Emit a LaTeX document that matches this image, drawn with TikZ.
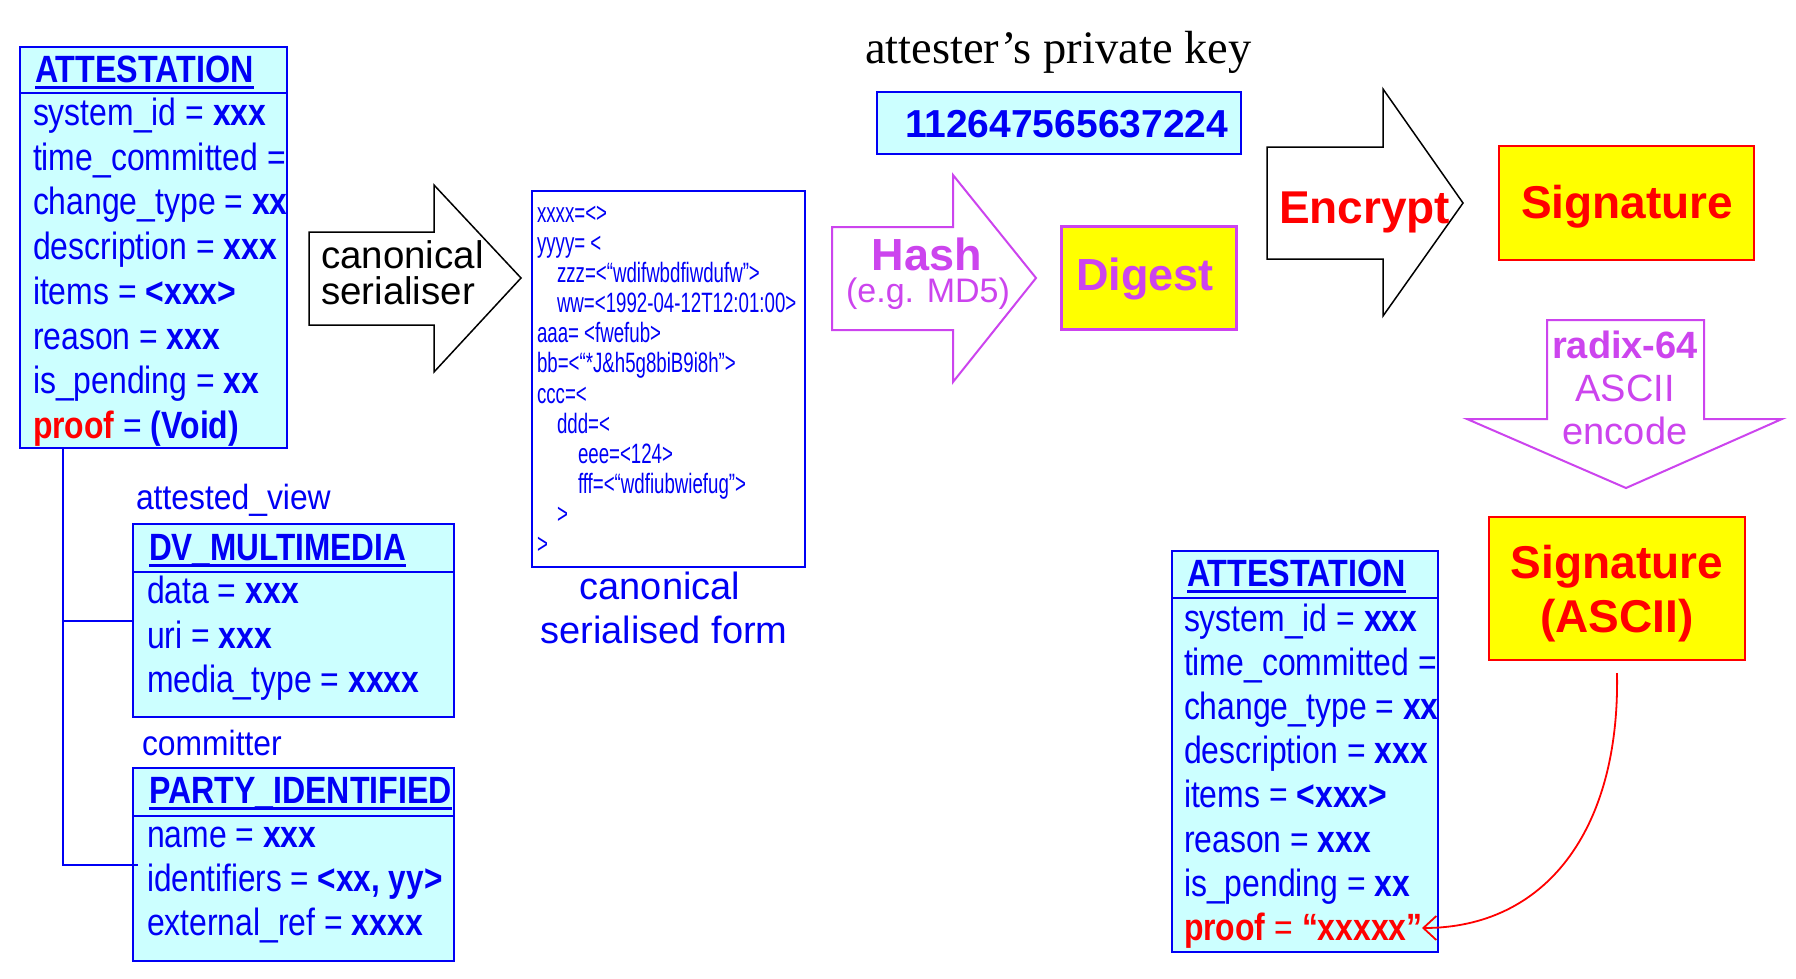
\documentclass[tikz,border=0pt]{standalone}
\usepackage{fontspec}
\setmainfont{Liberation Sans}
\newfontfamily\serifkey{Liberation Serif}
\usepackage{graphicx}
\usetikzlibrary{arrows.meta,calc}
\definecolor{bl}{RGB}{0,0,245}
\definecolor{cy}{RGB}{204,255,255}
\definecolor{pu}{RGB}{204,68,238}
\definecolor{yl}{RGB}{255,255,0}
\definecolor{rd}{RGB}{255,0,0}
\newcommand{\fsz}[1]{\fontsize{#1}{#1}\selectfont}
\newcommand{\hsc}[2]{\scalebox{#1}[1]{#2}}
\begin{document}
\begin{tikzpicture}[x=1pt,y=-1pt,
  t/.style={anchor=base west,inner sep=0pt,outer sep=0pt},
  tc/.style={anchor=base,inner sep=0pt,outer sep=0pt},
  bx/.style={anchor=north west,inner sep=0pt,outer sep=0pt,line width=2.5pt},
  umlbox/.style={bx,draw=bl,fill=cy},
  sep/.style={draw=bl,line width=2.5pt},
  tree/.style={draw=bl,line width=2pt},
  ulin/.style={draw=bl,line width=3pt},
  blockarrow/.style={line width=1.5pt,line join=miter,fill=white},
  bodyL/.style={t,text=bl,font=\fsz{38}},
  ser/.style={t,text=bl,font=\fsz{28}},
  ttl/.style={t,text=bl,font=\fsz{38}\bfseries},
]
\useasboundingbox (0,0) rectangle (1796,978);

% ---------- left ATTESTATION ----------
\node[umlbox,minimum width=267pt,minimum height=401pt] (att1) at (20,47) {};
\draw[sep] (att1.west |- 0,93) -- (att1.east |- 0,93);
\begin{scope}
\clip (20,47) rectangle (286,448);
\node[ttl] (att1t) at (35,82) {\hsc{0.85}{ATTESTATION}};
\node[bodyL] (a1) at (33,125) {\hsc{0.84}{system\_id = \textbf{xxx}}};
\node[bodyL] (a2) at (33,170) {\hsc{0.84}{time\_committed =}};
\node[bodyL] (a3) at (33,214) {\hsc{0.84}{change\_type = \textbf{xx}}};
\node[bodyL] (a4) at (33,259) {\hsc{0.84}{description = \textbf{xxx}}};
\node[bodyL] (a5) at (33,304) {\hsc{0.84}{items = \textbf{<xxx>}}};
\node[bodyL] (a6) at (33,349) {\hsc{0.84}{reason = \textbf{xxx}}};
\node[bodyL] (a7) at (33,393) {\hsc{0.84}{is\_pending = \textbf{xx}}};
\node[bodyL] (a8) at (33,438) {\hsc{0.84}{\textcolor{rd}{\textbf{proof}} = \textbf{(Void)}}};
\end{scope}
\draw[ulin] ([yshift=-5pt]att1t.base west) -- ([yshift=-5pt]att1t.base east);

% ---------- DV_MULTIMEDIA ----------
\node[t,text=bl,font=\fsz{35}] (lblview) at (136,509) {\hsc{0.91}{attested\_view}};
\node[umlbox,minimum width=321pt,minimum height=193pt] (dv) at (133,524) {};
\draw[sep] (dv.west |- 0,572) -- (dv.east |- 0,572);
\node[ttl] (dvt) at (149,560) {\hsc{0.83}{DV\_MULTIMEDIA}};
\draw[ulin] ([yshift=-5pt]dvt.base west) -- ([yshift=-5pt]dvt.base east);
\node[bodyL] (d1) at (147,603) {\hsc{0.84}{data = \textbf{xxx}}};
\node[bodyL] (d2) at (147,648) {\hsc{0.84}{uri = \textbf{xxx}}};
\node[bodyL] (d3) at (147,692) {\hsc{0.84}{media\_type = \textbf{xxxx}}};

% ---------- PARTY_IDENTIFIED ----------
\node[t,text=bl,font=\fsz{35}] (lblcomm) at (142,755) {\hsc{0.91}{committer}};
\node[umlbox,minimum width=321pt,minimum height=193pt] (party) at (133,768) {};
\draw[sep] (party.west |- 0,816) -- (party.east |- 0,816);
\node[ttl] (pt) at (149,803) {\hsc{0.845}{PARTY\_IDENTIFIED}};
\draw[ulin] ([yshift=-5pt]pt.base west) -- ([yshift=-5pt]pt.base east);
\node[bodyL] (p1) at (147,847) {\hsc{0.84}{name = \textbf{xxx}}};
\node[bodyL] (p2) at (147,891) {\hsc{0.83}{identifiers = \textbf{<xx, yy>}}};
\node[bodyL] (p3) at (147,935) {\hsc{0.84}{external\_ref = \textbf{xxxx}}};

% tree connectors
\coordinate (trunk) at ([xshift=43pt]att1.south west);
\draw[tree] (trunk) |- (dv.west);
\draw[tree] (trunk) |- ([xshift=5pt]party.west);

% ---------- canonical serialiser arrow ----------
\draw[blockarrow,draw=black] (309,232) -- (434,232) -- (434,185) -- (521,278) -- (434,372) -- (434,325) -- (309,325) -- cycle;
\node[t,font=\fsz{38.5}] (cs1) at (321,268) {canonical};
\node[t,font=\fsz{38.5}] (cs2) at (321,304) {serialiser};

% ---------- serialised form ----------
\node[bx,draw=bl,minimum width=273pt,minimum height=376pt] (serbox) at (532,191) {};
\node[ser] (s1) at (537,222) {\hsc{0.667}{xxxx=<>}};
\node[ser] (s2) at (537,252) {\hsc{0.667}{yyyy= <}};
\node[ser] (s3) at (557,282) {\hsc{0.667}{zzz=<“wdifwbdfiwdufw”>}};
\node[ser] (s4) at (557,312) {\hsc{0.667}{ww=<1992-04-12T12:01:00>}};
\node[ser] (s5) at (537,342) {\hsc{0.667}{aaa= <fwefub>}};
\node[ser] (s6) at (537,372) {\hsc{0.667}{bb=<“*J\&h5g8biB9i8h”>}};
\node[ser] (s7) at (537,403) {\hsc{0.667}{ccc=<}};
\node[ser] (s8) at (557,433) {\hsc{0.667}{ddd=<}};
\node[ser] (s9) at (578,463) {\hsc{0.667}{eee=<124>}};
\node[ser] (s10) at (578,493) {\hsc{0.667}{fff=<“wdfiubwiefug”>}};
\node[ser] (s11) at (557,523) {\hsc{0.667}{>}};
\node[ser] (s12) at (537,553) {\hsc{0.667}{>}};
\node[tc,text=bl,font=\fsz{38}] (cap1) at (660,599) {canonical};
\node[tc,text=bl,font=\fsz{38}] (cap2) at (664,643) {serialised form};

% ---------- key ----------
\node[t,font=\serifkey\fsz{46.5}] (keylbl) at (865,63) {attester’s private key};
\node[bx,draw=bl,fill=cy,minimum width=364pt,minimum height=62pt] (keybox) at (877,92) {};
\node[t,text=bl,font=\fsz{39}\bfseries] (keynum) at (905,137) {112647565637224};

% ---------- Hash arrow ----------
\draw[blockarrow,draw=pu,line width=2pt] (832,227) -- (953,227) -- (953,175) -- (1036,278) -- (953,382) -- (953,330) -- (832,330) -- cycle;
\node[tc,text=pu,font=\fsz{45}\bfseries] (hash1) at (927,270) {Hash};
\node[tc,text=pu,font=\fsz{34}] (hash2) at (928,302) {(e.g. MD5)};

% ---------- Digest ----------
\node[bx,draw=pu,fill=yl,line width=3pt,minimum width=175pt,minimum height=103pt] (digest) at (1061,226) {};
\node[tc,text=pu,font=\fsz{45}\bfseries] (digestt) at (1145,290) {Digest};

% ---------- Encrypt arrow ----------
\draw[blockarrow,draw=black] (1267,147) -- (1383,147) -- (1383,89) -- (1463,203) -- (1383,316) -- (1383,259) -- (1267,259) -- cycle;
\node[t,text=rd,font=\fsz{46}\bfseries] (encr) at (1279,223) {Encrypt};

% ---------- Signature ----------
\node[bx,draw=rd,fill=yl,minimum width=255pt,minimum height=114pt] (sig) at (1499,146) {};
\node[t,text=rd,font=\fsz{46}\bfseries] (sigt) at (1521,218) {Signature};

% ---------- radix-64 arrow ----------
\draw[blockarrow,draw=pu,line width=2pt] (1547,320) -- (1704,320) -- (1704,419) -- (1782,419) -- (1626,488) -- (1467,419) -- (1547,419) -- cycle;
\node[tc,text=pu,font=\fsz{38}\bfseries] (rx1) at (1625,358) {radix-64};
\node[tc,text=pu,font=\fsz{38}] (rx2) at (1625,401) {ASCII};
\node[tc,text=pu,font=\fsz{38}] (rx3) at (1625,444) {encode};

% ---------- Signature (ASCII) ----------
\node[bx,draw=rd,fill=yl,minimum width=256pt,minimum height=143pt] (sigA) at (1489,517) {};
\node[tc,text=rd,font=\fsz{46}\bfseries] (sigA1) at (1617,578) {Signature};
\node[tc,text=rd,font=\fsz{46}\bfseries] (sigA2) at (1617,632) {(ASCII)};

% ---------- right ATTESTATION ----------
\node[umlbox,minimum width=266pt,minimum height=401pt] (att2) at (1172,551) {};
\draw[sep] (att2.west |- 0,598) -- (att2.east |- 0,598);
\begin{scope}
\clip (1172,551) rectangle (1437,952);
\node[ttl] (att2t) at (1187,586) {\hsc{0.85}{ATTESTATION}};
\node[bodyL] (b1) at (1184,631) {\hsc{0.84}{system\_id = \textbf{xxx}}};
\node[bodyL] (b2) at (1184,675) {\hsc{0.84}{time\_committed =}};
\node[bodyL] (b3) at (1184,719) {\hsc{0.84}{change\_type = \textbf{xx}}};
\node[bodyL] (b4) at (1184,763) {\hsc{0.84}{description = \textbf{xxx}}};
\node[bodyL] (b5) at (1184,807) {\hsc{0.84}{items = \textbf{<xxx>}}};
\node[bodyL] (b6) at (1184,852) {\hsc{0.84}{reason = \textbf{xxx}}};
\node[bodyL] (b7) at (1184,896) {\hsc{0.84}{is\_pending = \textbf{xx}}};
\node[bodyL,text=rd] (b8) at (1184,940) {\hsc{0.84}{\textbf{proof} = \textbf{“xxxxx”}}};
\end{scope}
\draw[ulin] ([yshift=-5pt]att2t.base west) -- ([yshift=-5pt]att2t.base east);
\coordinate (proofend) at (1422,928);

% red curved connector
\draw[rd,line width=1.8pt,-{Straight Barb[length=13pt,width=24pt,line width=1.8pt]}]
  ([yshift=-13pt]sigA.south) .. controls (1620,831) and (1545,928) .. (proofend);
\end{tikzpicture}
\end{document}
